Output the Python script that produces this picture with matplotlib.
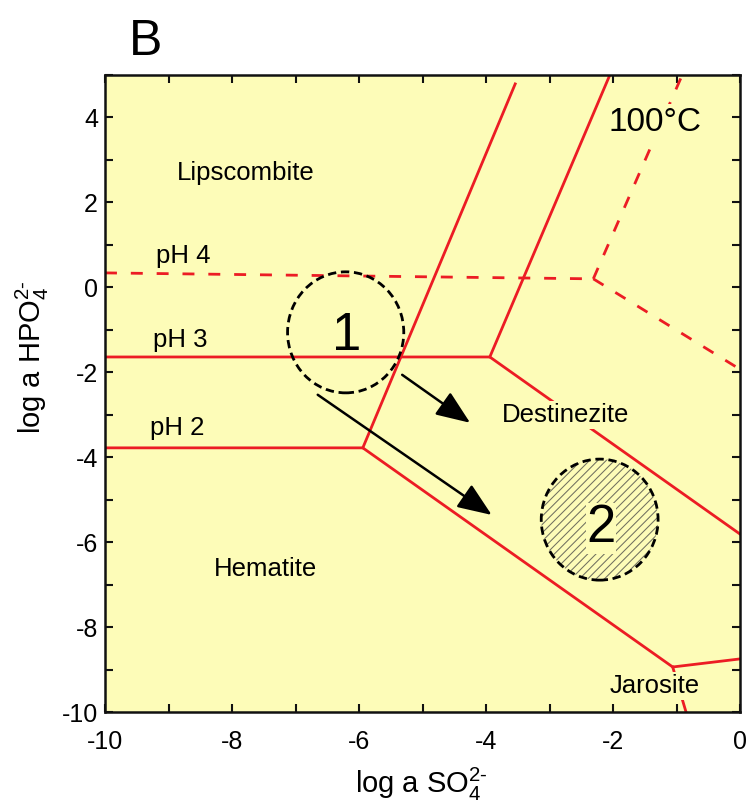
import matplotlib
matplotlib.use("Agg")
import matplotlib.pyplot as plt
from matplotlib.patches import Ellipse
from matplotlib.ticker import MultipleLocator

plt.rcParams['font.family'] = ['Liberation Sans', 'DejaVu Sans']
plt.rcParams['mathtext.fontset'] = 'custom'
plt.rcParams['mathtext.rm'] = 'Liberation Sans'
plt.rcParams['mathtext.default'] = 'regular'
plt.rcParams['hatch.linewidth'] = 0.75

# ---- data (log a SO4, log a HPO4) ----
ph4_x = [-10, -2.31]
ph4_y = [0.34, 0.20]
dash_up_x = [-2.31, -0.91]
dash_up_y = [0.20, 5.0]
dash_down_x = [-2.31, 0.0]
dash_down_y = [0.20, -1.93]

ph3_x = [-10, -3.94, 0.0]
ph3_y = [-1.64, -1.64, -5.81]
ph3_up_x = [-3.94, -2.05]
ph3_up_y = [-1.64, 5.0]

ph2_x = [-10, -5.94, -1.06, 0.0]
ph2_y = [-3.78, -3.78, -8.94, -8.75]
ph2_up_x = [-5.94, -3.54]
ph2_up_y = [-3.78, 4.79]
jar_x = [-1.06, -0.85]
jar_y = [-8.94, -10.0]

circle1 = (-6.21, -1.06, 1.83, 2.85)
circle2 = (-2.21, -5.47, 1.84, 2.85)
arrow1 = ((-5.32, -2.06), (-4.25, -3.19))
arrow2 = ((-6.65, -2.53), (-3.91, -5.36))

region_labels = ["Lipscombite", "pH 4", "pH 3", "pH 2", "Destinezite", "Hematite", "Jarosite"]
region_x = [-7.78, -8.77, -8.82, -8.87, -2.74, -7.48, -1.34]
region_y = [2.53, 0.58, -1.40, -3.47, -3.17, -6.80, -9.55]

x_ticks = [-10, -8, -6, -4, -2, 0]
y_ticks = [-10, -8, -6, -4, -2, 0, 2, 4]

BG = '#fdfcb8'
RED = '#ec1c24'

fig = plt.figure(figsize=(7.51, 8.05), dpi=100)
ax = fig.add_axes([105/751, 1-712/805, 635/751, 637/805])
ax.set_facecolor(BG)
ax.set_xlim(-10, 0)
ax.set_ylim(-10, 5)

lw = 2.0
dash = (0, (4.3, 5.0))
ax.plot(ph4_x, ph4_y, color=RED, lw=lw, ls=dash, zorder=2)
ax.plot(dash_up_x, dash_up_y, color=RED, lw=lw, ls=dash, zorder=2)
ax.plot(dash_down_x, dash_down_y, color=RED, lw=lw, ls=dash, zorder=2)
for xs, ys in [(ph3_x, ph3_y), (ph3_up_x, ph3_up_y), (ph2_x, ph2_y),
               (ph2_up_x, ph2_up_y), (jar_x, jar_y)]:
    ax.plot(xs, ys, color=RED, lw=lw, solid_joinstyle='miter', zorder=2)

# circles
circ_ls = (0, (3.0, 1.7))
cx, cy, w, h = circle1
ax.add_patch(Ellipse((cx, cy), w, h, fill=False, edgecolor='black', lw=2.0,
                     ls=circ_ls, zorder=4))
cx, cy, w, h = circle2
ax.add_patch(Ellipse((cx, cy), w, h, facecolor=BG, edgecolor='#707060', lw=0,
                     hatch='////', zorder=3))
ax.add_patch(Ellipse((cx, cy), w, h, fill=False, edgecolor='black', lw=2.0,
                     ls=circ_ls, zorder=4))
ax.text(circle1[0] + 0.02, -1.47, "1", fontsize=38, ha='center', va='baseline', zorder=5)
ax.text(circle2[0] + 0.02, -6.0, "2", fontsize=38, ha='center', va='baseline', zorder=5,
        bbox=dict(facecolor=BG, edgecolor='none', pad=0.5))

for (s, e) in [arrow1, arrow2]:
    ax.annotate("", xy=e, xytext=s,
                arrowprops=dict(arrowstyle='-|>,head_length=1.05,head_width=0.42',
                                mutation_scale=20, color='black', lw=1.8,
                                shrinkA=0, shrinkB=0), zorder=5)

for lab, x, y in zip(region_labels, region_x, region_y):
    kw = {}
    if lab in ("Destinezite", "Jarosite"):
        kw['bbox'] = dict(facecolor=BG, edgecolor='none', pad=1.5)
    ax.text(x, y, lab, fontsize=18.5, ha='center', va='baseline', zorder=6, **kw)

ax.text(-1.34, 3.69, "100°C", fontsize=24, ha='center', va='baseline', zorder=6,
        bbox=dict(facecolor=BG, edgecolor='none', pad=2))

# axes styling
ax.set_xticks(x_ticks)
ax.set_yticks(y_ticks)
ax.set_xticklabels([str(t) for t in x_ticks])
ax.set_yticklabels([str(t) for t in y_ticks])
ax.xaxis.set_minor_locator(MultipleLocator(1))
ax.yaxis.set_minor_locator(MultipleLocator(1))
ax.tick_params(which='both', direction='in', length=6, width=1.5,
               top=True, right=True, labelsize=18, color='#111111')
ax.tick_params(axis='x', which='major', pad=13)
ax.tick_params(axis='y', which='major', pad=5)
for sp in ax.spines.values():
    sp.set_linewidth(1.8)
    sp.set_color('#111111')

fig.text(0.5615, 1-784/805, r"log a SO$_4^{2\text{-}}$", fontsize=21, ha='center', va='center')
fig.text(32/751, 1-357/805, r"log a HPO$_4^{2\text{-}}$", fontsize=21, ha='center', va='center',
         rotation=90)
fig.text(129/751, 1-55/805, "B", fontsize=36, ha='left', va='baseline')

fig.savefig("out.png", dpi=100, facecolor='white')
